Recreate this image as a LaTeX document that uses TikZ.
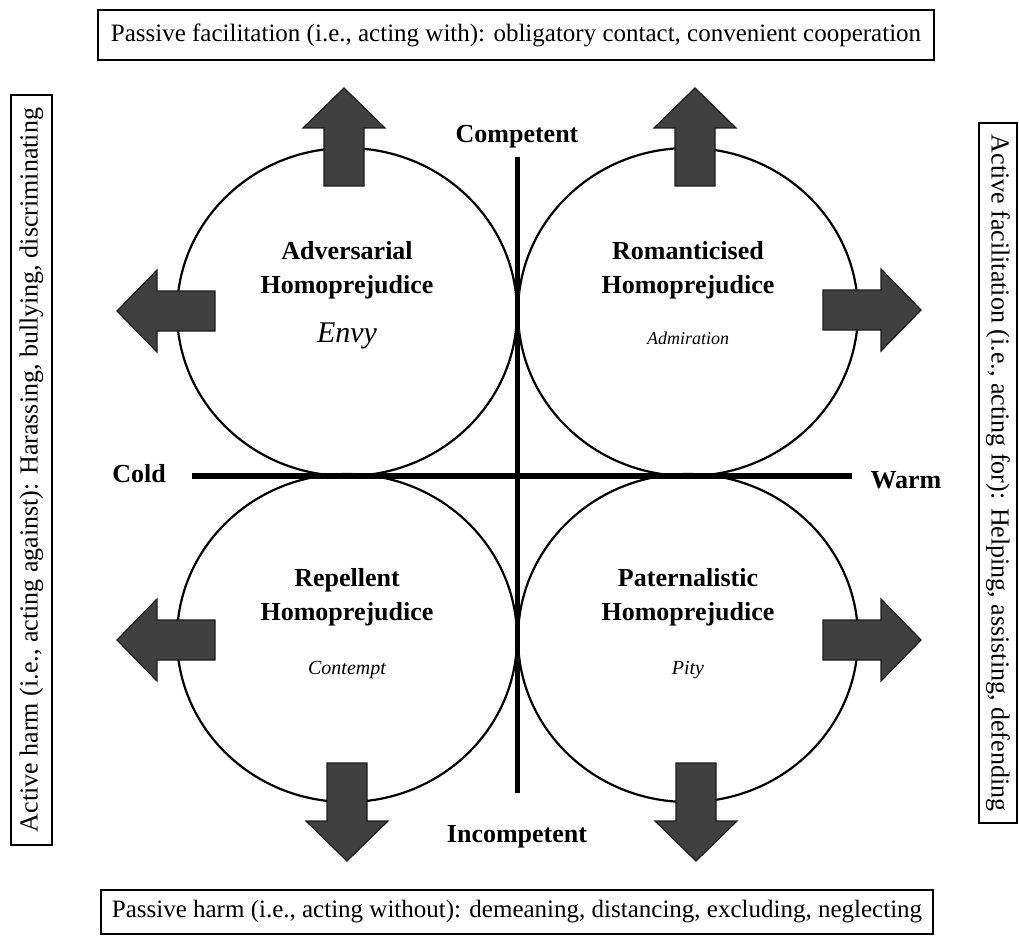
\documentclass[tikz,border=0pt]{standalone}
\usepackage{fontspec}
\setmainfont{Liberation Serif}
\usetikzlibrary{positioning,shapes.geometric}
\definecolor{arrowfill}{HTML}{404040}
\definecolor{arrowedge}{HTML}{1C1C1C}
\tikzset{
  sidebox/.style={draw, line width=1.4pt, inner sep=0pt, font=\fontsize{25}{30}\selectfont},
  axislabel/.style={font=\fontsize{26}{30}\selectfont\bfseries},
  quadtitle/.style={font=\fontsize{26}{34}\selectfont\bfseries, align=center},
  quadring/.style={draw, ellipse, line width=2.2pt, inner sep=0pt, minimum width=340, minimum height=328},
  bigarrow/.pic={\draw[fill=arrowfill, draw=arrowedge, line width=1.2pt]
    (-20,0) -- (-20,58) -- (-41,58) -- (0,98) -- (41,58) -- (20,58) -- (20,0) -- cycle;}
}
\begin{document}
\begin{tikzpicture}[x=1pt, y=-1pt]
\useasboundingbox (0,0) rectangle (1019,936);
% the four quadrants
\node[quadring] (advring) at (347,312) {};
\node[quadring] (romring) at (688,312) {};
\node[quadring] (repring) at (347,638) {};
\node[quadring] (patring) at (688,638) {};
% axes
\coordinate (comptop) at (517,157);
\coordinate (compbot) at (517,793);
\coordinate (coldend) at (192,476);
\coordinate (warmend) at (852,476);
\draw[line width=5pt] (comptop) -- (compbot);
\draw[line width=6pt] (coldend) -- (warmend);
\node[axislabel] (competent) at (517,137) {Competent};
\node[axislabel] (incompetent) at (517,837) {Incompetent};
\node[axislabel] (cold) at (139,474) {Cold};
\node[axislabel] (warm) at (906,480) {Warm};
% arrows out of the rings
\pic[rotate=180] at (344,186) {bigarrow};
\pic[rotate=-90] at (215,311) {bigarrow};
\pic[rotate=180] at (695,186) {bigarrow};
\pic[rotate=90] at (823,310) {bigarrow};
\pic[rotate=-90] at (215,640) {bigarrow};
\pic at (347,763) {bigarrow};
\pic[rotate=90] at (823,640) {bigarrow};
\pic at (696,763) {bigarrow};
% ring texts
\node[quadtitle] (advtitle) at (347,270) {Adversarial\\Homoprejudice};
\node[font=\fontsize{30}{36}\selectfont\itshape] (envy) at (347,336) {Envy};
\node[quadtitle] (romtitle) at (688,270) {Romanticised\\Homoprejudice};
\node[font=\fontsize{18}{22}\selectfont\itshape] (admiration) at (688,338) {Admiration};
\node[quadtitle] (reptitle) at (347,597) {Repellent\\Homoprejudice};
\node[font=\fontsize{20}{24}\selectfont\itshape] (contempt) at (347,670) {Contempt};
\node[quadtitle] (pattitle) at (688,597) {Paternalistic\\Homoprejudice};
\node[font=\fontsize{20}{24}\selectfont\itshape] (pity) at (688,670) {Pity};
% behaviour boxes
\node[sidebox, minimum width=836, minimum height=50] (passfac) at (516,35)
  {Passive facilitation (i.e., acting with): obligatory contact, convenient cooperation};
\node[sidebox, minimum width=832, minimum height=44] (passharm) at (517,912)
  {Passive harm (i.e., acting without): demeaning, distancing, excluding, neglecting};
\node[sidebox, rotate=90, minimum width=750, minimum height=41] (actharm) at (31.5,470)
  {\fontsize{26}{30}\selectfont Active harm (i.e., acting against): Harassing, bullying, discriminating};
\node[sidebox, rotate=-90, minimum width=700, minimum height=38] (actfac) at (998,473)
  {\fontsize{26}{30}\selectfont Active facilitation (i.e., acting for): Helping, assisting, defending};
\end{tikzpicture}
\end{document}
